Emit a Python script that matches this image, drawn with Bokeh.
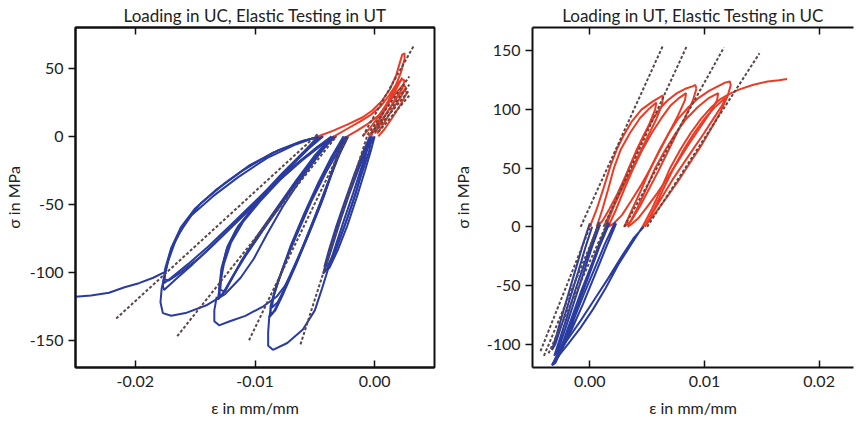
from bokeh.plotting import figure
from bokeh.layouts import row
from bokeh.models import FixedTicker, NumeralTickFormatter, Range1d, LinearAxis
from bokeh.embed import file_html
from bokeh.resources import INLINE

BLUE = "#2a3c9f"
RED = "#ec3b24"
DASH = "#5a4848"
FONT = "Lato"

# ---------------- Left panel: Loading in UC, Elastic Testing in UT ----------------
left_title = "Loading in UC, Elastic Testing in UT"
left_xrange = (-0.025, 0.005)
left_yrange = (-170, 80)
left_xticks = [-0.02, -0.01, 0.0]
left_yticks = [-150, -100, -50, 0, 50]

# compressive hysteresis loops (blue), four groups
g1a_x = [-0.0045,-0.0062,-0.0085,-0.0110,-0.0132,-0.0150,-0.0162,-0.0170,-0.0175,-0.0177,-0.0176,-0.0166,-0.0152,-0.0135,-0.0116,-0.0096,-0.0077,-0.0060,-0.0045]
g1a_y = [0,-4,-12,-25,-39,-53,-67,-82,-97,-110,-113,-105,-94,-80,-63,-45,-27,-12,0]
g1b_x = [-0.0047,-0.0066,-0.0090,-0.0114,-0.0135,-0.0153,-0.0164,-0.0171,-0.0175,-0.0176,-0.0170,-0.0156,-0.0139,-0.0120,-0.0100,-0.0080,-0.0063,-0.0047]
g1b_y = [0,-6,-16,-30,-44,-58,-72,-86,-100,-108,-104,-94,-81,-65,-48,-31,-15,0]
g1c_x = [-0.0043,-0.0059,-0.0080,-0.0104,-0.0126,-0.0145,-0.0158,-0.0167,-0.0173,-0.0176,-0.0172,-0.0162,-0.0146,-0.0128,-0.0108,-0.0088,-0.0070,-0.0055,-0.0043]
g1c_y = [0,-3,-10,-21,-35,-49,-63,-78,-93,-105,-106,-100,-89,-74,-57,-39,-22,-9,0]
g1_reload_x = [-0.0034,-0.0047,-0.0062,-0.0077,-0.0090,-0.0101,-0.0112,-0.0125,-0.0140,-0.0158,-0.0170,-0.0177,-0.0179,-0.0178,-0.0176]
g1_reload_y = [0,-14,-32,-52,-72,-90,-104,-116,-124,-130,-132,-130,-122,-112,-104]
final_x = [-0.0176,-0.0185,-0.0197,-0.0209,-0.0222,-0.0237,-0.0250]
final_y = [-100,-104,-108,-111,-115,-117,-118]

g2a_x = [-0.0034,-0.0048,-0.0065,-0.0083,-0.0100,-0.0114,-0.0123,-0.0128,-0.0130,-0.0129,-0.0124,-0.0117,-0.0108,-0.0094,-0.0078,-0.0062,-0.0047,-0.0034]
g2a_y = [0,-8,-20,-35,-51,-66,-81,-97,-112,-118,-112,-101,-88,-70,-50,-30,-12,0]
g2b_x = [-0.0036,-0.0051,-0.0069,-0.0087,-0.0103,-0.0116,-0.0124,-0.0128,-0.0129,-0.0125,-0.0119,-0.0111,-0.0098,-0.0082,-0.0066,-0.0050,-0.0036]
g2b_y = [0,-10,-23,-38,-54,-69,-84,-100,-113,-114,-104,-91,-73,-53,-33,-14,0]
g2c_x = [-0.0032,-0.0045,-0.0061,-0.0079,-0.0096,-0.0110,-0.0120,-0.0126,-0.0129,-0.0131,-0.0127,-0.0120,-0.0112,-0.0099,-0.0084,-0.0068,-0.0052,-0.0040,-0.0032]
g2c_y = [0,-7,-18,-32,-48,-63,-78,-94,-108,-120,-116,-105,-93,-76,-56,-36,-18,-6,0]
g2_reload_x = [-0.0024,-0.0033,-0.0043,-0.0054,-0.0065,-0.0075,-0.0082,-0.0093,-0.0108,-0.0121,-0.0130,-0.0134,-0.0134,-0.0132]
g2_reload_y = [0,-20,-44,-68,-92,-110,-118,-125,-132,-136,-139,-136,-128,-118]

g3a_x = [-0.0024,-0.0033,-0.0044,-0.0056,-0.0067,-0.0076,-0.0083,-0.0087,-0.0087,-0.0083,-0.0076,-0.0066,-0.0055,-0.0045,-0.0036,-0.0029,-0.0024]
g3a_y = [0,-12,-30,-52,-75,-95,-112,-125,-131,-128,-115,-95,-72,-50,-28,-12,0]
g3b_x = [-0.0026,-0.0036,-0.0047,-0.0059,-0.0070,-0.0078,-0.0084,-0.0086,-0.0081,-0.0073,-0.0063,-0.0052,-0.0042,-0.0034,-0.0026]
g3b_y = [0,-15,-34,-57,-80,-100,-116,-126,-122,-108,-88,-65,-43,-21,0]
g3c_x = [-0.0022,-0.0030,-0.0041,-0.0053,-0.0064,-0.0074,-0.0081,-0.0086,-0.0088,-0.0085,-0.0079,-0.0070,-0.0059,-0.0049,-0.0040,-0.0031,-0.0022]
g3c_y = [0,-10,-27,-48,-70,-91,-108,-122,-133,-130,-120,-101,-79,-57,-36,-16,0]
g3_reload_x = [-0.0003,-0.0010,-0.0018,-0.0025,-0.0031,-0.0038,-0.0044,-0.0050,-0.0060,-0.0073,-0.0085,-0.0089,-0.0089,-0.0088]
g3_reload_y = [0,-20,-42,-60,-76,-95,-112,-128,-142,-152,-157,-154,-144,-132]

g4a_x = [-0.0002,-0.0008,-0.0015,-0.0023,-0.0030,-0.0036,-0.0041,-0.0043,-0.0040,-0.0033,-0.0026,-0.0018,-0.0011,-0.0005,-0.0002]
g4a_y = [0,-10,-25,-45,-63,-80,-94,-101,-98,-85,-68,-48,-28,-12,0]
g4b_x = [-0.0004,-0.0010,-0.0017,-0.0025,-0.0032,-0.0038,-0.0042,-0.0039,-0.0032,-0.0024,-0.0016,-0.0009,-0.0004]
g4b_y = [0,-12,-28,-48,-66,-83,-96,-95,-82,-63,-42,-20,0]
g4c_x = [0.0000,-0.0006,-0.0013,-0.0021,-0.0028,-0.0034,-0.0039,-0.0042,-0.0038,-0.0031,-0.0023,-0.0015,-0.0008,-0.0003,0.0000]
g4c_y = [0,-9,-23,-42,-60,-77,-91,-99,-97,-84,-66,-45,-25,-10,0]

# tensile elastic tests (red)
t1_x = [-0.0047,-0.0035,-0.0022,-0.0010,-0.0002,0.0006,0.0013,0.0018,0.0021,0.0023,0.0025,0.0025,0.0022,0.0017,0.0011,0.0005,0.0000,-0.0003]
t1_y = [0,4,9,14,19,26,35,45,54,60,61,57,47,36,25,14,6,0]
t2_x = [-0.0034,-0.0024,-0.0012,-0.0003,0.0005,0.0012,0.0018,0.0023,0.0025,0.0023,0.0017,0.0010,0.0004,0.0000]
t2_y = [0,5,11,16,22,30,38,42,41,35,27,17,8,2]
t3_x = [-0.0023,-0.0015,-0.0006,0.0003,0.0011,0.0018,0.0024,0.0026,0.0022,0.0015,0.0008,0.0002]
t3_y = [0,4,9,15,24,32,38,36,29,20,10,2]
t4_x = [-0.0005,0.0000,0.0006,0.0013,0.0019,0.0025,0.0027,0.0022,0.0015,0.0008,0.0003]
t4_y = [0,5,12,21,29,34,32,24,14,5,0]
t5_x = [-0.0010,-0.0004,0.0003,0.0010,0.0016,0.0021,0.0023,0.0020,0.0014,0.0007,0.0001,-0.0004]
t5_y = [0,6,14,24,33,40,43,38,28,17,7,1]

# elastic fit lines (dashed)
ldash_x0 = [-0.0216,-0.0165,-0.0105,-0.0062,-0.0010,-0.0006,-0.0003,0.0000,0.0003]
ldash_y0 = [-134,-147,-150,-153,0,1,2,3,3]
ldash_x1 = [-0.0047,-0.0032,-0.0023,-0.0006,0.0033,0.0029,0.0029,0.0029,0.0029]
ldash_y1 = [2,0,0,1,67,44,38,34,30]

# ---------------- Right panel: Loading in UT, Elastic Testing in UC ----------------
right_title = "Loading in UT, Elastic Testing in UC"
right_xrange = (-0.005, 0.023)
right_yrange = (-120, 170)
right_xticks = [0.0, 0.01, 0.02]
right_yticks = [-100, -50, 0, 50, 100, 150]

r_init_x = [0.0000,0.0006,0.0012,0.0018,0.0024,0.0029,0.0036,0.0045,0.0055,0.0062,0.0064]
r_init_y = [0,15,33,52,67,77,89,100,107,111,112]
r_un1_x = [0.0064,0.0063,0.0058,0.0050,0.0042,0.0034,0.0026,0.0019,0.0013]
r_un1_y = [112,104,92,76,60,44,28,14,2]
r_l1_x = [0.0006,0.0011,0.0016,0.0021,0.0027,0.0035,0.0044,0.0052,0.0058,0.0057,0.0052,0.0045,0.0038,0.0031,0.0024,0.0017,0.0011,0.0006]
r_l1_y = [0,15,32,50,66,80,93,101,106,100,88,73,58,43,28,15,5,0]
r_re2_x = [0.0014,0.0020,0.0027,0.0034,0.0041,0.0048,0.0055,0.0062,0.0068,0.0076,0.0084,0.0090,0.0092,0.0093]
r_re2_y = [0,15,32,50,66,80,92,102,108,114,118,120,121,118]
r_un2_x = [0.0093,0.0090,0.0084,0.0076,0.0068,0.0060,0.0052,0.0044,0.0036,0.0030]
r_un2_y = [118,108,95,80,64,48,33,18,5,0]
r_l2_x = [0.0016,0.0023,0.0030,0.0038,0.0046,0.0054,0.0062,0.0070,0.0078,0.0084,0.0083,0.0077,0.0069,0.0061,0.0053,0.0045,0.0036,0.0028,0.0021,0.0016]
r_l2_y = [0,15,32,50,66,80,92,103,110,114,108,95,80,65,50,36,22,10,3,0]
r_re3_x = [0.0030,0.0037,0.0045,0.0053,0.0061,0.0069,0.0077,0.0086,0.0095,0.0104,0.0112,0.0118,0.0122,0.0123]
r_re3_y = [0,15,32,50,66,80,92,102,110,116,120,123,124,121]
r_un3_x = [0.0123,0.0120,0.0114,0.0106,0.0097,0.0087,0.0077,0.0067,0.0058,0.0050,0.0046]
r_un3_y = [121,111,98,84,69,54,39,25,13,3,0]
r_l3_x = [0.0033,0.0041,0.0049,0.0057,0.0066,0.0075,0.0084,0.0094,0.0104,0.0112,0.0111,0.0104,0.0095,0.0086,0.0077,0.0068,0.0059,0.0050,0.0042,0.0036,0.0033]
r_l3_y = [0,15,32,50,66,80,92,102,110,114,108,96,83,70,56,42,29,17,7,2,0]
r_re4_x = [0.0046,0.0054,0.0062,0.0070,0.0079,0.0088,0.0097,0.0106,0.0114,0.0121,0.0130,0.0142,0.0155,0.0165,0.0172]
r_re4_y = [0,15,32,50,66,80,92,102,109,113,117,121,124,125,126]
r_l4_x = [0.0048,0.0056,0.0064,0.0073,0.0082,0.0091,0.0100,0.0109,0.0116,0.0119,0.0115,0.0107,0.0099,0.0090,0.0081,0.0072,0.0064,0.0056,0.0051,0.0048]
r_l4_y = [0,15,32,50,66,80,92,102,108,110,103,91,79,66,53,40,27,14,5,0]

# compressive elastic tests (blue)
c1_x = [0.0000,-0.0006,-0.0012,-0.0018,-0.0024,-0.0029,-0.0033,-0.0030,-0.0024,-0.0017,-0.0010,-0.0004,0.0002]
c1_y = [3,-15,-35,-55,-75,-92,-105,-100,-82,-60,-38,-18,0]
c2_x = [0.0008,0.0001,-0.0006,-0.0013,-0.0020,-0.0026,-0.0031,-0.0028,-0.0021,-0.0013,-0.0005,0.0002,0.0009]
c2_y = [4,-15,-35,-55,-77,-95,-110,-106,-86,-62,-38,-17,2]
c3_x = [0.0016,0.0008,0.0000,-0.0008,-0.0016,-0.0023,-0.0030,-0.0027,-0.0019,-0.0010,-0.0001,0.0008,0.0017]
c3_y = [4,-15,-36,-56,-78,-97,-113,-110,-90,-66,-42,-18,3]
c4_x = [0.0022,0.0013,0.0004,-0.0005,-0.0014,-0.0022,-0.0030,-0.0033,-0.0026,-0.0016,-0.0006,0.0004,0.0014,0.0023]
c4_y = [4,-15,-36,-57,-79,-99,-116,-118,-108,-88,-66,-42,-18,3]
c5_x = [0.0046,0.0036,0.0025,0.0014,0.0003,-0.0008,-0.0019,-0.0028,-0.0033,-0.0030,-0.0020,-0.0008,0.0004,0.0016,0.0028,0.0038,0.0047]
c5_y = [0,-15,-32,-52,-70,-86,-100,-111,-118,-112,-97,-80,-62,-44,-25,-10,0]

rdash_x0 = [-0.0008,0.0012,0.0030,0.0050,-0.0043,-0.0040,-0.0036]
rdash_y0 = [0,0,0,0,-106,-110,-108]
rdash_x1 = [0.0064,0.0085,0.0117,0.0148,0.0001,0.0008,0.0015]
rdash_y1 = [155,155,153,148,2,2,3]


def style(p, xticks, yticks, ylab_standoff):
    p.grid.visible = False
    p.background_fill_color = "white"
    p.border_fill_color = "white"
    p.title.text_font = FONT
    p.title.text_font_size = "17px"
    p.title.text_font_style = "normal"
    p.title.text_color = "#222222"
    p.title.align = "center"
    p.title.standoff = 4
    p.title.offset = 0
    xa = p.xaxis[0]
    xa.ticker = FixedTicker(ticks=xticks)
    xa.formatter = NumeralTickFormatter(format="0.00")
    xa.major_tick_in = 7
    xa.major_tick_out = 0
    xa.axis_label = "ε in mm/mm"
    ya = p.yaxis[0]
    ya.ticker = FixedTicker(ticks=yticks)
    ya.formatter = NumeralTickFormatter(format="0")
    ya.major_tick_in = 0
    ya.major_tick_out = 7
    ya.axis_label = "σ in MPa"
    ya.axis_label_standoff = ylab_standoff
    xa.axis_label_standoff = 8
    top = LinearAxis(ticker=FixedTicker(ticks=xticks), major_tick_in=7, major_tick_out=0,
                     major_label_text_font_size="1px", major_label_text_color=None,
                     major_label_standoff=0)
    p.add_layout(top, "above")
    for ax in [xa, ya, top]:
        ax.minor_tick_line_color = None
        ax.axis_line_width = 2
        ax.axis_line_color = "#111111"
        ax.major_tick_line_width = 1.5
        ax.major_tick_line_color = "#111111"
        ax.major_label_text_font = FONT
        ax.axis_label_text_font = FONT
        ax.axis_label_text_font_style = "normal"
        ax.axis_label_text_font_size = "16px"
        ax.axis_label_text_color = "#222222"
    for ax in [xa, ya]:
        ax.major_label_text_font_size = "16px"
        ax.major_label_text_color = "#222222"
    xa.major_label_standoff = 8
    ya.major_label_standoff = 5


p1 = figure(frame_width=359, frame_height=340, x_range=Range1d(*left_xrange), y_range=Range1d(*left_yrange),
            output_backend="svg", toolbar_location=None, title=left_title,
            min_border_left=70, min_border_right=15, min_border_top=0, min_border_bottom=50)
p1.outline_line_color = "#111111"
p1.outline_line_width = 2
style(p1, left_xticks, left_yticks, 4)

blue_xs = [g1a_x, g1b_x, g1c_x, g1_reload_x, final_x, g2a_x, g2b_x, g2c_x, g2_reload_x,
           g3a_x, g3b_x, g3c_x, g3_reload_x, g4a_x, g4b_x, g4c_x]
blue_ys = [g1a_y, g1b_y, g1c_y, g1_reload_y, final_y, g2a_y, g2b_y, g2c_y, g2_reload_y,
           g3a_y, g3b_y, g3c_y, g3_reload_y, g4a_y, g4b_y, g4c_y]
p1.multi_line(blue_xs, blue_ys, line_color=BLUE, line_width=2)
p1.multi_line([t1_x, t2_x, t3_x, t4_x, t5_x], [t1_y, t2_y, t3_y, t4_y, t5_y], line_color=RED, line_width=2)
p1.segment(ldash_x0, ldash_y0, ldash_x1, ldash_y1, line_color=DASH, line_width=2, line_dash="3 2")

p2 = figure(frame_width=321, frame_height=340, x_range=Range1d(*right_xrange), y_range=Range1d(*right_yrange),
            output_backend="svg", toolbar_location=None, title=right_title,
            min_border_left=77, min_border_right=2, min_border_top=0, min_border_bottom=50)
p2.outline_line_color = None
style(p2, right_xticks, right_yticks, 12)

p2.multi_line([r_init_x, r_un1_x, r_l1_x, r_re2_x, r_un2_x, r_l2_x, r_re3_x, r_un3_x, r_l3_x, r_re4_x, r_l4_x],
              [r_init_y, r_un1_y, r_l1_y, r_re2_y, r_un2_y, r_l2_y, r_re3_y, r_un3_y, r_l3_y, r_re4_y, r_l4_y],
              line_color=RED, line_width=2)
p2.multi_line([c1_x, c2_x, c3_x, c4_x, c5_x], [c1_y, c2_y, c3_y, c4_y, c5_y], line_color=BLUE, line_width=2)
p2.segment(rdash_x0, rdash_y0, rdash_x1, rdash_y1, line_color=DASH, line_width=2, line_dash="3 2")

layout = row(p1, p2)
open("out.html", "w").write(file_html(layout, INLINE))
